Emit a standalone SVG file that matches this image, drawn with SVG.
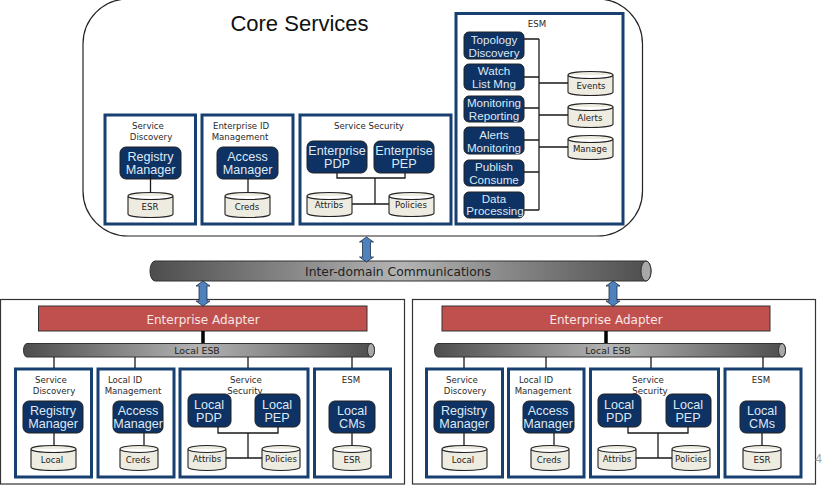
<svg xmlns="http://www.w3.org/2000/svg" xmlns:xlink="http://www.w3.org/1999/xlink" width="823" height="485" viewBox="0 0 823 485">
<style>
text{font-family:"DejaVu Sans","Liberation Sans",sans-serif;text-anchor:middle}
.dom{fill:#fff;stroke:#333;stroke-width:1.2}
.box{fill:#fff;stroke:#173f70;stroke-width:3}
.n{fill:#0d3263;stroke:#222;stroke-width:1}
.nt{font-family:"Liberation Sans",Arial,sans-serif;font-size:12.6px;fill:#dfe8f4}
.et{font-family:"Liberation Sans",Arial,sans-serif;font-size:11.6px;fill:#dfe8f4}
.t{font-size:8.6px;fill:#2a2a2a}
.c{fill:#eeece1;stroke:#222;stroke-width:1.1}
.ct{font-size:8.6px;fill:#222}
.w{fill:none;stroke:#1a1a1a;stroke-width:1.3}
.thick{fill:none;stroke:#000;stroke-width:3.5}
.arrow{fill:#4f81bd;stroke:#1e2f45;stroke-width:.8}
.ad{fill:#c0504d;stroke:#333;stroke-width:1}
.at{font-size:12px;fill:#f6e6e5}
.bar{stroke:#333;stroke-width:1}
.cap{fill:#a8a8a8;stroke:#333;stroke-width:1}
.bt{fill:#222}
</style>
<defs>
<linearGradient id="barG" x1="0" y1="0" x2="1" y2="0">
<stop offset="0" stop-color="#4d4d4d"/><stop offset=".5" stop-color="#b4b4b4"/><stop offset="1" stop-color="#4d4d4d"/>
</linearGradient>
<path id="dbl" class="arrow" d="M0,0 L7,5 L4,5 L4,20 L7,20 L0,25 L-7,20 L-4,20 L-4,5 L-7,5 Z"/>
</defs>

<g id="panels">
<rect class="dom" x="83" y="-1" width="559.500" height="237" rx="45" ry="45" style="stroke:#222"/>
<rect class="dom" x="0.500" y="299.500" width="404" height="184.500"/>
<rect class="dom" x="412.500" y="299.500" width="403" height="184.500"/>
</g>

<text x="299.500" y="31" style="font-family:'Liberation Sans',Arial,sans-serif;font-size:22px;fill:#111">Core Services</text>

<g id="inter-domain">
<path class="bar" fill="url(#barG)" d="M155,261H646A5,10 0 0 1 646,281H155A5,10 0 0 1 155,261Z"/>
<ellipse class="cap" cx="646" cy="271" rx="5" ry="10"/>
<text class="bt" x="398" y="275.500" font-size="12.300">Inter-domain Communications</text>
</g>

<g id="core-service-discovery">
<rect class="box" x="105" y="115" width="90.500" height="109"/>
<text class="t" x="148" y="129">Service</text><text class="t" x="151" y="140">Discovery</text>
</g>
<g id="core-registry-manager"><rect class="n" x="120" y="147" width="61" height="32" rx="6"/>
<text class="nt" x="150.500" y="161">Registry</text><text class="nt" x="150.500" y="174">Manager</text></g>
<g id="core-esr"><path class="c" d="M128,196A22.500,3.500 0 0 1 173,196V214A22.500,3.500 0 0 1 128,214ZM128,196A22.500,3.500 0 0 0 173,196"/>
<text class="ct" x="150" y="210">ESR</text></g>

<g id="core-id-management">
<rect class="box" x="202" y="115" width="91" height="109"/>
<text class="t" x="241" y="129">Enterprise ID</text><text class="t" x="240" y="140">Management</text>
</g>
<g id="core-access-manager"><rect class="n" x="217" y="147" width="61" height="32" rx="6"/>
<text class="nt" x="247.500" y="161">Access</text><text class="nt" x="247.500" y="174">Manager</text></g>
<g id="core-creds"><path class="c" d="M225,196A22.500,3.500 0 0 1 270,196V214A22.500,3.500 0 0 1 225,214ZM225,196A22.500,3.500 0 0 0 270,196"/>
<text class="ct" x="247" y="210">Creds</text></g>

<g id="core-service-security">
<rect class="box" x="300" y="115" width="151" height="109"/>
<text class="t" x="369" y="129">Service Security</text>
</g>
<g id="enterprise-pdp"><rect class="n" x="307" y="141" width="60" height="32" rx="6"/>
<text class="nt" x="337" y="154.500">Enterprise</text><text class="nt" x="337" y="167.500">PDP</text></g>
<g id="enterprise-pep"><rect class="n" x="374" y="141" width="60" height="32" rx="6"/>
<text class="nt" x="404" y="154.500">Enterprise</text><text class="nt" x="404" y="167.500">PEP</text></g>
<g id="core-attribs"><path class="c" d="M307,196A22.500,3.500 0 0 1 352,196V213A22.500,3.500 0 0 1 307,213ZM307,196A22.500,3.500 0 0 0 352,196"/>
<text class="ct" x="329" y="208">Attribs</text></g>
<g id="core-policies"><path class="c" d="M389,196A22.500,3.500 0 0 1 434,196V213A22.500,3.500 0 0 1 389,213ZM389,196A22.500,3.500 0 0 0 434,196"/>
<text class="ct" x="411" y="208">Policies</text></g>

<g id="core-esm">
<rect class="box" x="456" y="13.500" width="167" height="210.500"/>
<text class="t" x="537" y="27">ESM</text>
</g>
<g id="topology-discovery"><rect class="n" x="464" y="32" width="60" height="27" rx="5"/>
<text class="et" x="494" y="44">Topology</text><text class="et" x="494" y="57">Discovery</text></g>
<g id="watch-list"><rect class="n" x="464" y="64" width="60" height="26" rx="5"/>
<text class="et" x="494" y="75">Watch</text><text class="et" x="494" y="88">List Mng</text></g>
<g id="monitoring-reporting"><rect class="n" x="464" y="96" width="60" height="26" rx="5"/>
<text class="et" x="494" y="107">Monitoring</text><text class="et" x="494" y="120">Reporting</text></g>
<g id="alerts-monitoring"><rect class="n" x="464" y="127" width="60" height="27" rx="5"/>
<text class="et" x="494" y="139">Alerts</text><text class="et" x="494" y="152">Monitoring</text></g>
<g id="publish-consume"><rect class="n" x="464" y="160" width="60" height="26" rx="5"/>
<text class="et" x="494" y="171">Publish</text><text class="et" x="494" y="184">Consume</text></g>
<g id="data-processing"><rect class="n" x="464" y="192" width="60" height="26" rx="5"/>
<text class="et" x="494" y="203">Data</text><text class="et" x="495" y="215">Processing</text></g>
<g id="events"><path class="c" d="M568,75A22.500,3.500 0 0 1 613,75V92A22.500,3.500 0 0 1 568,92ZM568,75A22.500,3.500 0 0 0 613,75"/>
<text class="ct" x="591" y="89">Events</text></g>
<g id="alerts"><path class="c" d="M568,107A22.500,3.500 0 0 1 613,107V124A22.500,3.500 0 0 1 568,124ZM568,107A22.500,3.500 0 0 0 613,107"/>
<text class="ct" x="590" y="121">Alerts</text></g>
<g id="manage"><path class="c" d="M568,139A22.500,3.500 0 0 1 613,139V156A22.500,3.500 0 0 1 568,156ZM568,139A22.500,3.500 0 0 0 613,139"/>
<text class="ct" x="590" y="152">Manage</text></g>

<!-- Left domain -->
<g id="l-adapter"><rect class="ad" x="38.500" y="306" width="328.500" height="25"/>
<text class="at" x="203" y="324">Enterprise Adapter</text></g>
<g id="l-esb"><path class="bar" fill="url(#barG)" d="M27,343.500H371A3.500,6.750 0 0 1 371,357H27A3.500,6.750 0 0 1 27,343.500Z"/>
<ellipse class="cap" cx="371" cy="350.250" rx="3.500" ry="6.750"/>
<text class="bt" x="197" y="354" font-size="9.400">Local ESB</text></g>

<g id="l-service-discovery"><rect class="box" x="15.500" y="369" width="76" height="108"/>
<text class="t" x="51" y="383">Service</text><text class="t" x="54" y="394">Discovery</text></g>
<g id="l-registry"><rect class="n" x="23" y="401" width="60" height="32" rx="6"/>
<text class="nt" x="53" y="415">Registry</text><text class="nt" x="53" y="428">Manager</text></g>
<g id="l-local"><path class="c" d="M31,449A22.500,3.500 0 0 1 76,449V467A22.500,3.500 0 0 1 31,467ZM31,449A22.500,3.500 0 0 0 76,449"/>
<text class="ct" x="52" y="463">Local</text></g>

<g id="l-id-management"><rect class="box" x="98" y="369" width="76" height="108"/>
<text class="t" x="125" y="383">Local ID</text><text class="t" x="133" y="394">Management</text></g>
<g id="l-access"><rect class="n" x="113" y="401" width="50" height="32" rx="6"/>
<text class="nt" x="138" y="415">Access</text><text class="nt" x="138" y="428">Manager</text></g>
<g id="l-creds"><path class="c" d="M120,449A19,3.500 0 0 1 158,449V467A19,3.500 0 0 1 120,467ZM120,449A19,3.500 0 0 0 158,449"/>
<text class="ct" x="138" y="463">Creds</text></g>

<g id="l-security"><rect class="box" x="180" y="369" width="128" height="108"/>
<text class="t" x="246" y="383">Service</text><text class="t" x="245" y="394">Security</text></g>
<g id="l-pdp"><rect class="n" x="188" y="394" width="43" height="33" rx="6"/>
<text class="nt" x="209" y="409">Local</text><text class="nt" x="209" y="422">PDP</text></g>
<g id="l-pep"><rect class="n" x="255" y="394" width="45" height="33" rx="6"/>
<text class="nt" x="277" y="409">Local</text><text class="nt" x="277" y="422">PEP</text></g>
<g id="l-attribs"><path class="c" d="M188,449A19,3.500 0 0 1 226,449V467A19,3.500 0 0 1 188,467ZM188,449A19,3.500 0 0 0 226,449"/>
<text class="ct" x="207" y="462">Attribs</text></g>
<g id="l-policies"><path class="c" d="M262,449A19,3.500 0 0 1 300,449V467A19,3.500 0 0 1 262,467ZM262,449A19,3.500 0 0 0 300,449"/>
<text class="ct" x="281" y="462">Policies</text></g>

<g id="l-esm"><rect class="box" x="314.500" y="369" width="76" height="108"/>
<text class="t" x="351" y="383">ESM</text></g>
<g id="l-cms"><rect class="n" x="329" y="401" width="46" height="32" rx="6"/>
<text class="nt" x="352" y="415">Local</text><text class="nt" x="352" y="428">CMs</text></g>
<g id="l-esr"><path class="c" d="M333,449A19,3.500 0 0 1 371,449V467A19,3.500 0 0 1 333,467ZM333,449A19,3.500 0 0 0 371,449"/>
<text class="ct" x="352" y="463">ESR</text></g>

<!-- Right domain -->
<g id="r-adapter"><rect class="ad" x="442" y="306" width="328" height="25"/>
<text class="at" x="606" y="324">Enterprise Adapter</text></g>
<g id="r-esb"><path class="bar" fill="url(#barG)" d="M438,343.500H782A3.500,6.750 0 0 1 782,357H438A3.500,6.750 0 0 1 438,343.500Z"/>
<ellipse class="cap" cx="782" cy="350.250" rx="3.500" ry="6.750"/>
<text class="bt" x="608" y="354" font-size="9.400">Local ESB</text></g>

<g id="r-service-discovery"><rect class="box" x="426.500" y="369" width="76" height="108"/>
<text class="t" x="462" y="383">Service</text><text class="t" x="465" y="394">Discovery</text></g>
<g id="r-registry"><rect class="n" x="434" y="401" width="60" height="32" rx="6"/>
<text class="nt" x="464" y="415">Registry</text><text class="nt" x="464" y="428">Manager</text></g>
<g id="r-local"><path class="c" d="M442,449A22.500,3.500 0 0 1 487,449V467A22.500,3.500 0 0 1 442,467ZM442,449A22.500,3.500 0 0 0 487,449"/>
<text class="ct" x="463" y="463">Local</text></g>

<g id="r-id-management"><rect class="box" x="508.500" y="369" width="75.500" height="108"/>
<text class="t" x="536" y="383">Local ID</text><text class="t" x="543" y="394">Management</text></g>
<g id="r-access"><rect class="n" x="523" y="401" width="51" height="32" rx="6"/>
<text class="nt" x="548" y="415">Access</text><text class="nt" x="548" y="428">Manager</text></g>
<g id="r-creds"><path class="c" d="M531,449A19,3.500 0 0 1 569,449V467A19,3.500 0 0 1 531,467ZM531,449A19,3.500 0 0 0 569,449"/>
<text class="ct" x="549" y="463">Creds</text></g>

<g id="r-security"><rect class="box" x="590.500" y="369" width="128" height="108"/>
<text class="t" x="648" y="383">Service</text><text class="t" x="650" y="394">Security</text></g>
<g id="r-pdp"><rect class="n" x="598" y="394" width="43" height="33" rx="6"/>
<text class="nt" x="619" y="409">Local</text><text class="nt" x="619" y="422">PDP</text></g>
<g id="r-pep"><rect class="n" x="666" y="394" width="45" height="33" rx="6"/>
<text class="nt" x="688" y="409">Local</text><text class="nt" x="688" y="422">PEP</text></g>
<g id="r-attribs"><path class="c" d="M598,449A19,3.500 0 0 1 636,449V467A19,3.500 0 0 1 598,467ZM598,449A19,3.500 0 0 0 636,449"/>
<text class="ct" x="617" y="462">Attribs</text></g>
<g id="r-policies"><path class="c" d="M672,449A19,3.500 0 0 1 710,449V467A19,3.500 0 0 1 672,467ZM672,449A19,3.500 0 0 0 710,449"/>
<text class="ct" x="691" y="462">Policies</text></g>

<g id="r-esm"><rect class="box" x="725" y="369" width="76" height="108"/>
<text class="t" x="761" y="383">ESM</text></g>
<g id="r-cms"><rect class="n" x="740" y="401" width="45" height="32" rx="6"/>
<text class="nt" x="762" y="415">Local</text><text class="nt" x="762" y="428">CMs</text></g>
<g id="r-esr"><path class="c" d="M743,449A19,3.500 0 0 1 781,449V467A19,3.500 0 0 1 743,467ZM743,449A19,3.500 0 0 0 781,449"/>
<text class="ct" x="762" y="463">ESR</text></g>

<g id="connectors">
<path class="w" d="M150.500,174V192M248,179V192M337,173V178H405V173M375,178V204M352,204H389"/>
<path class="w" d="M524,39H539M524,77H539M524,108H539M524,140H539M524,172H539M524,210H539M539,39V210M539,83H568M539,115H568M539,147H568"/>
<path class="thick" d="M203,331V343M606,331V343"/>
<path class="w" d="M54,357V368M135,357V368M248,357V368M352,357V368M464,357V368M546,357V368M651,357V368M763,357V368"/>
<path class="w" d="M54,433V445M144,433V445M218,427V433H278V427M248,433V458M226,458H262M352,433V445"/>
<path class="w" d="M464,433V445M554,433V445M628,427V433H688V427M658,433V458M636,458H672M762,433V445"/>
<use xlink:href="#dbl" href="#dbl" x="366.500" y="237"/>
<use xlink:href="#dbl" href="#dbl" x="203" y="281"/>
<use xlink:href="#dbl" href="#dbl" x="613" y="281"/>
</g>

<text x="818.500" y="463" style="font-family:'Liberation Sans',Arial,sans-serif;font-size:12px;fill:#a0a0a0">4</text>
</svg>
